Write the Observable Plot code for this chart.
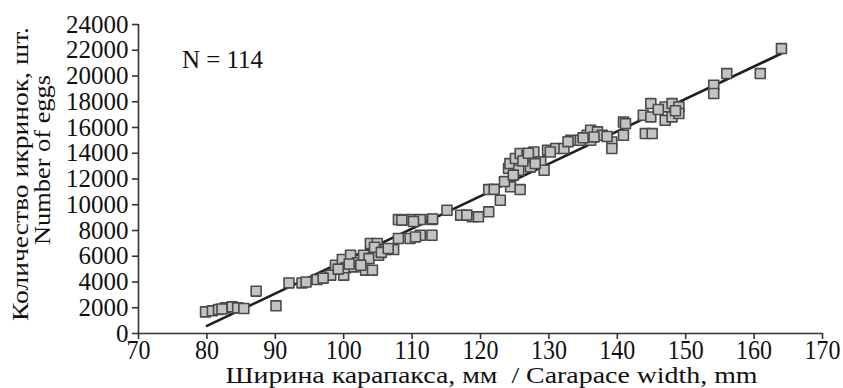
<!DOCTYPE html>
<html>
<head>
<meta charset="utf-8">
<script src="https://cdn.jsdelivr.net/npm/d3@7"></script>
<script src="https://cdn.jsdelivr.net/npm/@observablehq/plot@0.6"></script>
<style>
  body { margin: 0; background: #fff; }
  svg { font-family: "Liberation Serif", serif; }
</style>
</head>
<body>
<div id="chart"></div>
<script>
// Carapace width, mm
const widths = [79.8, 80.8, 81.7, 82.7, 83.7, 84.5, 85.4, 87.2, 90.1, 92.0,
  93.9, 96.1, 98.1, 98.8, 100.0, 99.8, 100.3, 101.0, 101.5, 102.0,
  102.9, 103.2, 103.7, 104.2, 103.9, 104.9, 105.1, 106.1, 107.3, 108.0,
  108.0, 109.7, 109.7, 111.2, 111.2, 112.9, 112.9, 110.5, 115.1, 117.1,
  118.8, 119.7, 121.2, 121.2, 122.0, 122.9, 124.4, 125.8, 124.1, 124.3,
  125.1, 125.8, 126.8, 125.6, 127.8, 127.3, 128.8, 129.3, 129.8, 131.0,
  132.2, 133.2, 134.6, 135.6, 136.1, 136.1, 137.1, 137.8, 139.2, 139.2,
  140.9, 140.9, 144.1, 145.1, 143.8, 144.9, 144.9, 147.0, 147.0, 148.0,
  148.0, 149.0, 149.0, 154.1, 154.1, 156.0, 160.9, 164.0, 82.2, 94.5,
  97.0, 99.2, 100.8, 102.5, 104.5, 105.5, 106.5, 108.5, 110.2, 113.0,
  118.0, 123.5, 124.8, 126.2, 127.0, 128.0, 130.2, 132.8, 135.0, 136.6,
  138.5, 141.2, 146.0, 148.5];
// Number of eggs
const eggs = [1680, 1760, 1860, 1990, 2070, 1990, 1940, 3290, 2150, 3930,
  3930, 4190, 4530, 5300, 4530, 5750, 5100, 6080, 5170, 5500,
  6080, 4920, 5820, 4920, 6990, 6990, 6080, 6520, 6520, 7380,
  8850, 8850, 7380, 8850, 7630, 8850, 7630, 7500, 9570, 9190,
  9060, 9060, 9450, 11180, 11200, 10350, 11390, 11180, 12820, 13200,
  13590, 13980, 13850, 12680, 14100, 12940, 13330, 12680, 14240, 14370,
  14370, 15010, 15010, 15400, 15790, 15010, 15660, 15400, 14880, 14370,
  16430, 15400, 15530, 15530, 16950, 17860, 16820, 17600, 16560, 17860,
  16820, 17600, 17090, 19290, 18640, 20190, 20190, 22130, 1900, 4000,
  4300, 5000, 5400, 5300, 6700, 6300, 6600, 8800, 8700, 8900,
  9200, 11800, 12300, 13400, 14000, 13200, 14100, 14900, 15200, 15270,
  15300, 16300, 17400, 17300];
// Fitted regression line end points
const fitX = [80, 164];
const fitY = [590, 21750];

const xTicks = [70, 80, 90, 100, 110, 120, 130, 140, 150, 160, 170];
const yTicks = [0, 2000, 4000, 6000, 8000, 10000, 12000, 14000, 16000, 18000, 20000, 22000, 24000];

const nLabel = "N = 114";
const xTitle = "Ширина карапакса, мм\u00a0 / Carapace width, mm";
const yTitle1 = "Количество икринок, шт.";
const yTitle2 = "Number of eggs";

const points = widths.map((w, i) => ({w, e: eggs[i]}));
const fit = fitX.map((x, i) => ({x, y: fitY[i]}));

const axisColor = "#333";

const chart = Plot.plot({
  width: 843,
  height: 388,
  marginLeft: 138,
  marginRight: 21,
  marginTop: 24,
  marginBottom: 55,
  style: {fontFamily: "Liberation Serif, serif", color: "#222", background: "#fff"},
  x: {domain: [70, 170]},
  y: {domain: [0, 24000]},
  marks: [
    Plot.ruleX([70], {stroke: axisColor, strokeWidth: 1.6}),
    Plot.ruleY([0], {stroke: axisColor, strokeWidth: 1.6}),
    Plot.axisY(yTicks, {
      tickSize: 6, tickPadding: 4, fontSize: 25, stroke: axisColor, strokeWidth: 1.6,
      tickFormat: d => String(d), fill: "#111", label: null
    }),
    Plot.axisX(xTicks, {
      tickSize: 6, tickPadding: 0, fontSize: 24, stroke: axisColor, strokeWidth: 1.6,
      tickFormat: d => String(d), fill: "#111", label: null
    }),
    Plot.line(fit, {x: "x", y: "y", stroke: "#1e1e1e", strokeWidth: 2.6}),
    Plot.dot(points, {
      x: "w", y: "e", symbol: "square", r: 5.6,
      fill: "#c3c3c3", stroke: "#4a4a4a", strokeWidth: 1.6, strokeLinejoin: "round"
    }),
    Plot.text([nLabel], {frameAnchor: "top-left", dx: 84, dy: 26, fontSize: 25, fill: "#111", textAnchor: "middle"}),
    Plot.text([xTitle], {frameAnchor: "bottom", dx: 11, dy: 42, lineAnchor: "middle", textAnchor: "middle", fontSize: 23, fill: "#111"}),
    Plot.text([yTitle1], {frameAnchor: "left", dx: -118, dy: -5, rotate: -90, textAnchor: "middle", lineAnchor: "middle", fontSize: 24, fill: "#111"}),
    Plot.text([yTitle2], {frameAnchor: "left", dx: -96, dy: -19, rotate: -90, textAnchor: "middle", lineAnchor: "middle", fontSize: 24, fill: "#111"})
  ]
});

// stretch x tick labels slightly vertically as in the reference
d3.select(chart).selectAll('g[aria-label="x-axis tick label"] text').each(function() {
  const t = d3.select(this);
  const tr = t.attr("transform");
  if (tr) t.attr("transform", tr + " scale(1,1.12)");
});
// widen titles to the reference lengths
const lengths = new Map([[xTitle, 532], [yTitle1, 294], [yTitle2, 170]]);
d3.select(chart).selectAll("text").each(function() {
  const L = lengths.get(this.textContent);
  if (L) d3.select(this).attr("textLength", L).attr("lengthAdjust", "spacingAndGlyphs");
});

document.getElementById("chart").appendChild(chart);
</script>
</body>
</html>
